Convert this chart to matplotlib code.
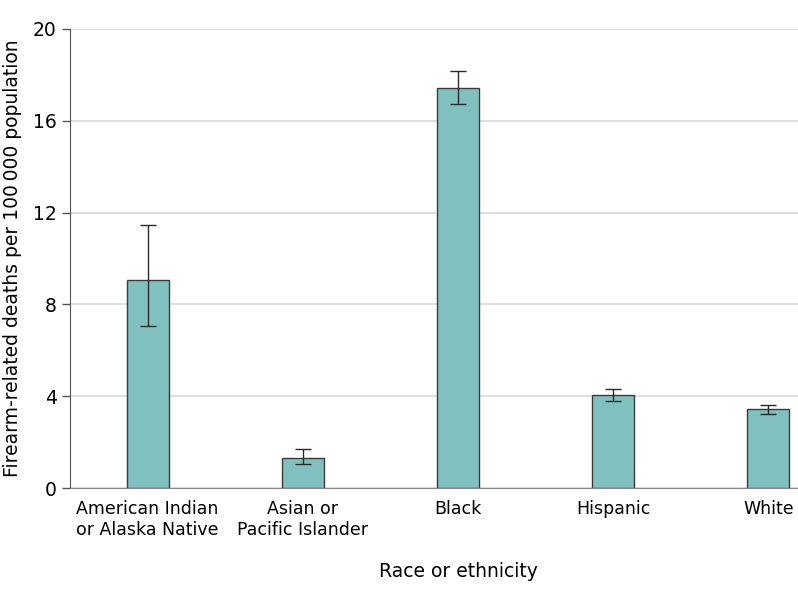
import matplotlib.pyplot as plt
import numpy as np

categories = ["American Indian\nor Alaska Native", "Asian or\nPacific Islander", "Black", "Hispanic", "White"]
rates = [9.05, 1.31, 17.43, 4.05, 3.44]
ci_low = [7.06, 1.05, 16.73, 3.79, 3.22]
ci_high = [11.46, 1.70, 18.17, 4.31, 3.62]
yticks = [0, 4, 8, 12, 16, 20]

plt.rcParams['font.family'] = ['DejaVu Sans']
fig = plt.figure(figsize=(7.98, 5.98), dpi=100)
# the plot area runs past the right edge of the picture, as in the original crop
ax = fig.add_axes([70 / 798, 1 - 488 / 598, (846 - 70) / 798, (488 - 29) / 598])

x = np.arange(len(categories))
rates_a = np.array(rates)
yerr = [rates_a - np.array(ci_low), np.array(ci_high) - rates_a]
ax.bar(x, rates, width=0.27, color='#80c1bf', edgecolor='#3a3a3a', linewidth=1.0, zorder=3)
ax.errorbar(x, rates, yerr=yerr, fmt='none', ecolor='#2a2a2a', elinewidth=1.0, capsize=6, capthick=1.0, zorder=4)

ax.set_ylim(0, 20)
ax.set_xlim(-0.5, 4.5)
ax.set_yticks(yticks)
ax.set_xticks(x)
ax.set_xticklabels(categories, fontsize=12.5)
ax.tick_params(axis='y', labelsize=13.5, length=6, color='#555555', width=1)
ax.tick_params(axis='x', length=0, pad=9)
ax.grid(axis='y', color='#d9d9d9', linewidth=1.2, zorder=0)
for s in ['top', 'right']:
    ax.spines[s].set_visible(False)
ax.spines['left'].set_color('#555555')
ax.spines['bottom'].set_color('#888888')
ax.set_ylabel('Firearm-related deaths per 100\u2009000 population', fontsize=13.5, labelpad=8)
ax.set_xlabel('Race or ethnicity', fontsize=13.5, labelpad=16)

fig.savefig('out.png', dpi=100)
